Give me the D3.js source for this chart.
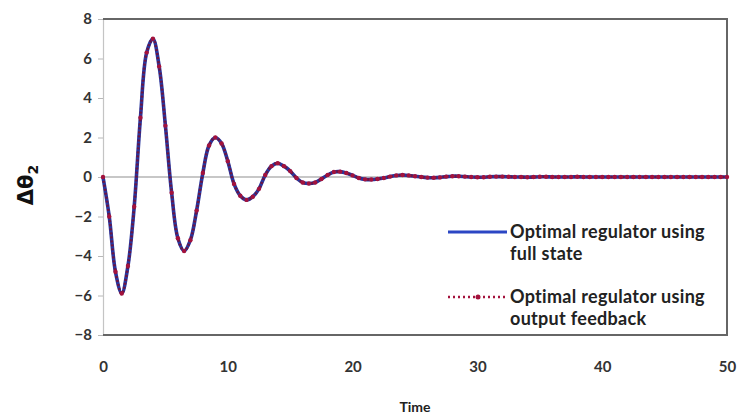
<!DOCTYPE html>
<html>
<head>
<meta charset="utf-8">
<script src="https://cdn.jsdelivr.net/npm/d3@7/dist/d3.min.js"></script>
<style>
  html, body { margin: 0; padding: 0; background: #fff; }
  svg { display: block; }
</style>
</head>
<body>
<svg id="chart" width="739" height="418"></svg>
<script>
// ---- data ----
const time = [
  0, 0.5, 1, 1.5, 2, 2.5, 3, 3.5, 4, 4.5, 5, 5.5, 6, 6.5, 7, 7.5, 8, 8.5, 9, 9.5,
  10, 10.5, 11, 11.5, 12, 12.5, 13, 13.5, 14, 14.5, 15, 15.5, 16, 16.5, 17, 17.5, 18, 18.5, 19, 19.5,
  20, 20.5, 21, 21.5, 22, 22.5, 23, 23.5, 24, 24.5, 25, 25.5, 26, 26.5, 27, 27.5, 28, 28.5, 29, 29.5,
  30, 30.5, 31, 31.5, 32, 32.5, 33, 33.5, 34, 34.5, 35, 35.5, 36, 36.5, 37, 37.5, 38, 38.5, 39, 39.5,
  40, 40.5, 41, 41.5, 42, 42.5, 43, 43.5, 44, 44.5, 45, 45.5, 46, 46.5, 47, 47.5, 48, 48.5, 49, 49.5, 50
];
const fullState = [
  0, -2.0, -4.8, -5.9, -4.5, -1.5, 3.0, 6.3, 7.0, 5.6, 2.6, -0.8, -3.1, -3.75, -3.2, -1.7, 0.2, 1.6, 2.0, 1.7,
  0.8, -0.35, -0.95, -1.16, -1.0, -0.6, 0.1, 0.55, 0.7, 0.55, 0.3, -0.05, -0.28, -0.33, -0.28, -0.1, 0.1, 0.25, 0.27, 0.2,
  0.08, -0.05, -0.12, -0.13, -0.1, -0.05, 0.02, 0.08, 0.1, 0.08, 0.04, 0.0, -0.03, -0.04, -0.02, 0.02, 0.04, 0.04, 0.02, 0.0,
  -0.01, -0.01, 0.01, 0.02, 0.02, 0.01, 0.0, 0.0, -0.01, 0.0, 0.01, 0.01, 0.0, 0.0, 0.0, 0.0, 0.01, 0.0, 0.0, 0.0,
  0.0, 0.0, 0.0, 0.0, 0.0, 0.0, 0.0, 0.0, 0.0, 0.0, 0.0, 0.0, 0.0, 0.0, 0.0, 0.0, 0.0, 0.0, 0.0, 0.0, 0.0
];
const outputFeedback = [
  0, -2.0, -4.8, -5.9, -4.5, -1.5, 3.0, 6.3, 7.0, 5.6, 2.6, -0.8, -3.1, -3.75, -3.2, -1.7, 0.2, 1.6, 2.0, 1.7,
  0.8, -0.35, -0.95, -1.16, -1.0, -0.6, 0.1, 0.55, 0.7, 0.55, 0.3, -0.05, -0.28, -0.33, -0.28, -0.1, 0.1, 0.25, 0.27, 0.2,
  0.08, -0.05, -0.12, -0.13, -0.1, -0.05, 0.02, 0.08, 0.1, 0.08, 0.04, 0.0, -0.03, -0.04, -0.02, 0.02, 0.04, 0.04, 0.02, 0.0,
  -0.01, -0.01, 0.01, 0.02, 0.02, 0.01, 0.0, 0.0, -0.01, 0.0, 0.01, 0.01, 0.0, 0.0, 0.0, 0.0, 0.01, 0.0, 0.0, 0.0,
  0.0, 0.0, 0.0, 0.0, 0.0, 0.0, 0.0, 0.0, 0.0, 0.0, 0.0, 0.0, 0.0, 0.0, 0.0, 0.0, 0.0, 0.0, 0.0, 0.0, 0.0
];
const xTicks = [0, 10, 20, 30, 40, 50];
const yTicks = [-8, -6, -4, -2, 0, 2, 4, 6, 8];
const seriesNames = [
  ["Optimal regulator using", "full state"],
  ["Optimal regulator using", "output feedback"]
];
const xTitle = "Time";

// ---- layout ----
const svg = d3.select("#chart");
const L = 103, R = 727, T = 19, B = 335;
const x = d3.scaleLinear().domain([0, 50]).range([L, R]);
const y = d3.scaleLinear().domain([-8, 8]).range([B, T]);
const font = "Lato, 'Open Sans', sans-serif";

svg.append("rect").attr("width", 739).attr("height", 418).attr("fill", "#fff");

// zero line
svg.append("line").attr("x1", L).attr("x2", R).attr("y1", y(0)).attr("y2", y(0))
  .attr("stroke", "#b4b4b4").attr("stroke-width", 1.5);

// left axis
const yAxis = d3.axisLeft(y).tickValues(yTicks).tickSize(5).tickPadding(6).tickFormat(d3.format("d"));
const gy = svg.append("g").attr("transform", `translate(${L},0)`).call(yAxis);
gy.select(".domain").attr("stroke", "#c4c4c4").attr("stroke-width", 1.2);
gy.selectAll(".tick line").attr("stroke", "#b8b8b8");
gy.selectAll(".tick text").attr("font-family", font).attr("font-weight", "bold")
  .attr("font-size", 15).attr("fill", "#333");

// bottom axis labels
const xAxis = d3.axisBottom(x).tickValues(xTicks).tickSize(0).tickPadding(26).tickFormat(d3.format("d"));
const gx = svg.append("g").attr("transform", `translate(0,${B})`).call(xAxis);
gx.select(".domain").remove();
gx.selectAll(".tick text").attr("font-family", font).attr("font-weight", "bold")
  .attr("font-size", 15).attr("fill", "#333");

// frame (top, right, bottom)
svg.append("path")
  .attr("d", `M${L},${T}H${R}V${B}H${L}`)
  .attr("fill", "none").attr("stroke", "#666").attr("stroke-width", 2);

// series
const pts1 = time.map((t, i) => [t, fullState[i]]);
const pts2 = time.map((t, i) => [t, outputFeedback[i]]);
const line = d3.line().x(d => x(d[0])).y(d => y(d[1])).curve(d3.curveCatmullRom.alpha(0.5));

svg.append("path").attr("d", line(pts1)).attr("fill", "none")
  .attr("stroke", "#28369e").attr("stroke-width", 3.6).attr("stroke-linejoin", "round");
svg.append("path").attr("d", line(pts2)).attr("fill", "none")
  .attr("stroke", "#6e1440").attr("stroke-width", 2.6).attr("stroke-dasharray", "2,2");
svg.append("g").selectAll("circle").data(pts2).join("circle")
  .attr("cx", d => x(d[0])).attr("cy", d => y(d[1])).attr("r", 2.2)
  .attr("fill", "#a3123c");

// axis titles
svg.append("text").attr("x", (L + R) / 2).attr("y", 412).attr("text-anchor", "middle")
  .attr("font-family", font).attr("font-weight", "bold").attr("font-size", 14).attr("fill", "#222")
  .text(xTitle);

const yt = svg.append("text").attr("transform", "translate(33,185) rotate(-90)")
  .attr("text-anchor", "middle").attr("font-family", "'DejaVu Sans', sans-serif")
  .attr("font-weight", "bold").attr("font-size", 21).attr("fill", "#111");
yt.append("tspan").text("Δθ");
yt.append("tspan").attr("font-size", 14).attr("dy", 5).text("2");

// legend
const legY = [232, 297];
const lg = svg.append("g");
lg.append("line").attr("x1", 448).attr("x2", 507).attr("y1", legY[0]).attr("y2", legY[0])
  .attr("stroke", "#2b46c4").attr("stroke-width", 3);
lg.append("line").attr("x1", 448).attr("x2", 507).attr("y1", legY[1]).attr("y2", legY[1])
  .attr("stroke", "#a3123c").attr("stroke-width", 2.4).attr("stroke-dasharray", "2,3");
lg.append("circle").attr("cx", 478).attr("cy", legY[1]).attr("r", 2.5).attr("fill", "#a3123c");

seriesNames.forEach((lines, i) => {
  lines.forEach((s, j) => {
    lg.append("text").attr("x", 510).attr("y", legY[i] + j * 22).attr("dy", "0.35em")
      .attr("font-family", font).attr("font-weight", "bold").attr("letter-spacing", 0.3)
      .attr("font-size", 18).attr("fill", "#222").text(s);
  });
});
</script>
</body>
</html>
